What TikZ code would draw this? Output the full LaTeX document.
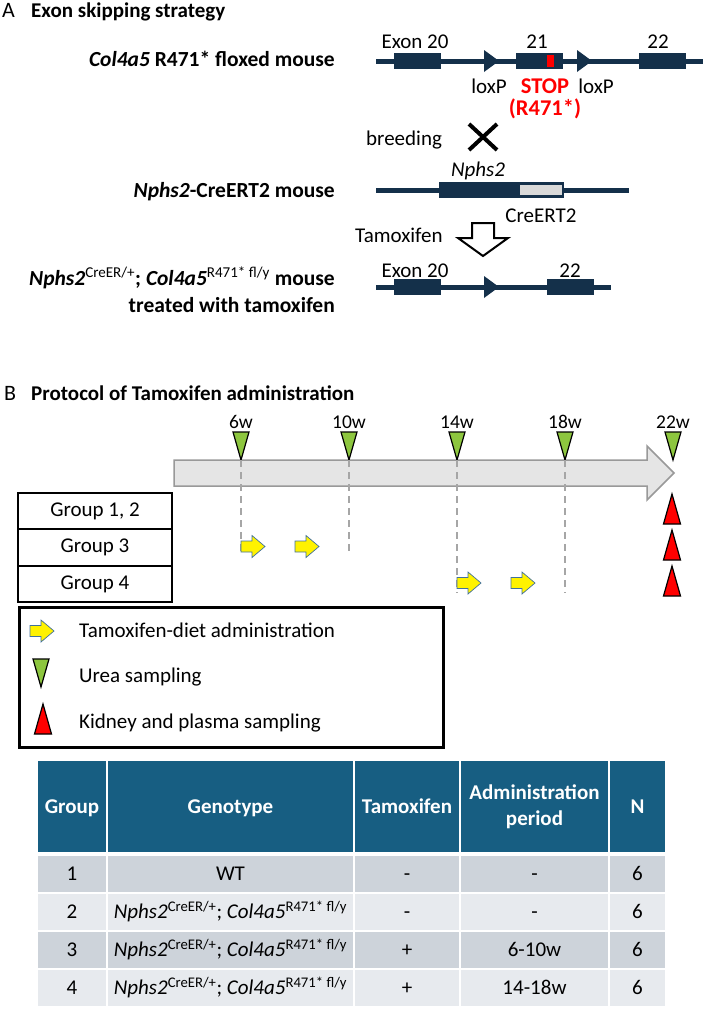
\documentclass[tikz,border=0pt]{standalone}
\usepackage{fontspec}
\setmainfont{Carlito}
\usepackage{xcolor}
\usetikzlibrary{arrows.meta,calc}

\definecolor{genecol}{HTML}{14304A}
\definecolor{headcol}{HTML}{175E82}
\definecolor{rowdark}{HTML}{CDD3DA}
\definecolor{rowlight}{HTML}{E7EAEE}
\definecolor{ureacol}{HTML}{8DC63F}
\definecolor{dietedge}{HTML}{41719C}

\newcommand{\geno}{\textit{Nphs2}\textsuperscript{CreER/+}; \textit{Col4a5}\textsuperscript{R471* fl/y}}

\begin{document}
\begin{tikzpicture}[x=1pt,y=-1pt,
  lbl/.style={inner sep=0pt,font=\fontsize{21}{25}\selectfont},
  bold/.style={inner sep=0pt,font=\bfseries\fontsize{21.5}{25}\selectfont},
  dna/.style={genecol,line width=5pt},
  exon/.style={fill=genecol},
  tri/.style={draw=black,line width=1.2pt},
  diet/.pic={\draw[fill=yellow,draw=dietedge,line width=.7pt] (0,-5.5) -- (11,-5.5) -- (11,-11) -- (24,0) -- (11,11) -- (11,5.5) -- (0,5.5) -- cycle;},
  urea/.pic={\draw[tri,fill=ureacol] (-8,0) -- (8,0) -- (0,28) -- cycle;},
  kidney/.pic={\draw[tri,fill=red] (0,0) -- (8.5,30) -- (-8.5,30) -- cycle;},
  timebar/.style={fill=black!10,draw=black!40,line width=1.5pt},
  guide/.style={black!35,line width=1.5pt,dash pattern=on 7pt off 5pt},
  grp/.style={draw,line width=2pt,minimum width=154pt,minimum height=36.5pt,inner sep=0pt,font=\fontsize{21}{25}\selectfont},
  cell/.style={draw=white,line width=2pt,inner sep=0pt,font=\fontsize{21}{25}\selectfont},
  oneline/.style={text height=13.5pt,text depth=0pt},
  head/.style={cell,fill=headcol,text=white,font=\bfseries\fontsize{21}{26}\selectfont,minimum height=93pt,align=center}]
  \fill[white] (0,0) rectangle (703,1009);
  \useasboundingbox (0,0) rectangle (703,1009);

  % panel A
  \node[lbl,anchor=base west,font=\fontsize{22}{26}\selectfont] (panA) at (2,17) {A};
  \node[bold,anchor=base west,font=\bfseries\fontsize{21}{25}\selectfont] (titleA) at (31,17) {Exon skipping strategy};

  % floxed allele
  \draw[dna] (376,61) -- (703,61);
  \foreach \x in {394,516,639} \fill[exon] (\x,53) rectangle ++(47,16);
  \foreach \x in {484,577} \fill[exon] (\x,50) -- (\x+15,61) -- (\x,72) -- cycle;
  \fill[red] (547,55) rectangle (554,67);
  \node[lbl,anchor=base] (ex20) at (415,48) {Exon 20};
  \node[lbl,anchor=base] (ex21) at (537,48) {21};
  \node[lbl,anchor=base] (ex22) at (658,48) {22};
  \node[lbl,anchor=base] (lox1) at (489,93) {loxP};
  \node[lbl,anchor=base] (lox2) at (596,93) {loxP};
  \node[bold,anchor=base,text=red,font=\bfseries\fontsize{22.5}{26}\selectfont] (stop) at (545,93) {STOP};
  \node[bold,anchor=base,text=red,font=\bfseries\fontsize{22.5}{26}\selectfont] (mut) at (545,115) {(R471*)};
  \node[bold,anchor=base east] (flox) at (335,66) {\textit{Col4a5} R471* floxed mouse};

  % breeding
  \node[lbl,anchor=base west] (breed) at (366,145) {breeding};
  \draw[line width=4pt] (469,124) -- (497,150) (497,124) -- (469,150);

  % CreERT2 allele
  \draw[dna] (376,190) -- (629,190);
  \fill[exon] (439,182) rectangle (564,198);
  \fill[black!15] (520,185) rectangle (562,195);
  \node[lbl,anchor=base,font=\itshape\fontsize{21}{25}\selectfont] (nphs) at (478,176) {Nphs2};
  \node[lbl,anchor=base] (cre) at (541,222) {CreERT2};
  \node[bold,anchor=base east] (creline) at (335,197) {\textit{Nphs2}-CreERT2 mouse};

  % tamoxifen
  \node[lbl,anchor=base west] (tam) at (355,242) {Tamoxifen};
  \draw[line width=2pt,fill=white] (472,223) -- (494,223) -- (494,238) -- (508,238) -- (483,256) -- (458,238) -- (472,238) -- cycle;

  % deleted allele
  \draw[dna] (376,287) -- (611,287);
  \foreach \x in {394,547} \fill[exon] (\x,279) rectangle ++(47,16);
  \fill[exon] (484,276) -- (499,287) -- (484,298) -- cycle;
  \node[lbl,anchor=base] (ex20b) at (415,277) {Exon 20};
  \node[lbl,anchor=base] (ex22b) at (570,277) {22};
  \node[bold,anchor=base east] (mouse) at (335,285) {\textit{Nphs2}\textsuperscript{\mdseries CreER/+}; \textit{Col4a5}\textsuperscript{\mdseries R471* fl/y} mouse};
  \node[bold,anchor=base east] (treated) at (335,312) {treated with tamoxifen};

  % panel B
  \node[lbl,anchor=base west,font=\fontsize{22}{26}\selectfont] (panB) at (4,400) {B};
  \node[bold,anchor=base west,font=\bfseries\fontsize{21}{25}\selectfont] (titleB) at (31,400) {Protocol of Tamoxifen administration};

  % time axis
  \draw[timebar] (174,460) -- (647,460) -- (647,446) -- (674,473) -- (647,500) -- (647,486) -- (174,486) -- cycle;
  \foreach \w [count=\i from 0] in {6,10,14,18,22}{
    \node[lbl,anchor=base,font=\fontsize{19.5}{23}\selectfont] (wk\w) at (241+108*\i,428) {\w w};
    \coordinate (tip\w) at (241+108*\i,460);
    \pic at (241+108*\i,432) {urea};
  }
  \foreach \w/\len in {6/92,10/92,14/133,18/133} \draw[guide] (tip\w) -- ++(0,\len);

  % groups
  \foreach \n/\y [count=\i] in {{1, 2}/511,3/547.5,4/584} \node[grp] (grp\i) at (95,\y) {Group \n};
  \foreach \x/\y in {241/546.5,295/546.5,457/583,511/583} \pic at (\x,\y) {diet};
  \foreach \y in {494,530,566} \pic at (672,\y) {kidney};

  % legend
  \node[draw,line width=2.5pt,minimum width=424pt,minimum height=140pt,anchor=north west,inner sep=0pt] (legend) at (18,606) {};
  \pic at (30,631) {diet};
  \pic at (41,659) {urea};
  \pic at (43,704) {kidney};
  \node[lbl,anchor=base west] (lg1) at (79,637) {Tamoxifen-diet administration};
  \node[lbl,anchor=base west] (lg2) at (79,682) {Urea sampling};
  \node[lbl,anchor=base west] (lg3) at (79,728) {Kidney and plasma sampling};

  % table
  \foreach \x/\w/\t [count=\i] in {72/70/Group,230.5/247/Genotype,407/106/Tamoxifen,637.5/57/N}
    \node[head,oneline,minimum width=\w pt] (hd\i) at (\x,806.5) {\t};
  \node[head,minimum width=149pt] (hdper) at (534.5,806.5) {Administration\\period};
  \foreach \y/\fc/\g/\gt/\tam/\per [count=\r] in {874/rowdark/1/WT/-/-,912/rowlight/2/\geno/-/-,950/rowdark/3/\geno/+/6-10w,988/rowlight/4/\geno/+/14-18w}{
    \node[cell,oneline,fill=\fc,minimum width=70pt,minimum height=38pt] (r\r-1) at (72,\y) {\g};
    \node[cell,oneline,fill=\fc,minimum width=247pt,minimum height=38pt] (r\r-2) at (230.5,\y) {\gt};
    \node[cell,oneline,fill=\fc,minimum width=106pt,minimum height=38pt] (r\r-3) at (407,\y) {\tam};
    \node[cell,oneline,fill=\fc,minimum width=149pt,minimum height=38pt] (r\r-4) at (534.5,\y) {\per};
    \node[cell,oneline,fill=\fc,minimum width=57pt,minimum height=38pt] (r\r-5) at (637.5,\y) {6};
  }
\end{tikzpicture}
\end{document}
